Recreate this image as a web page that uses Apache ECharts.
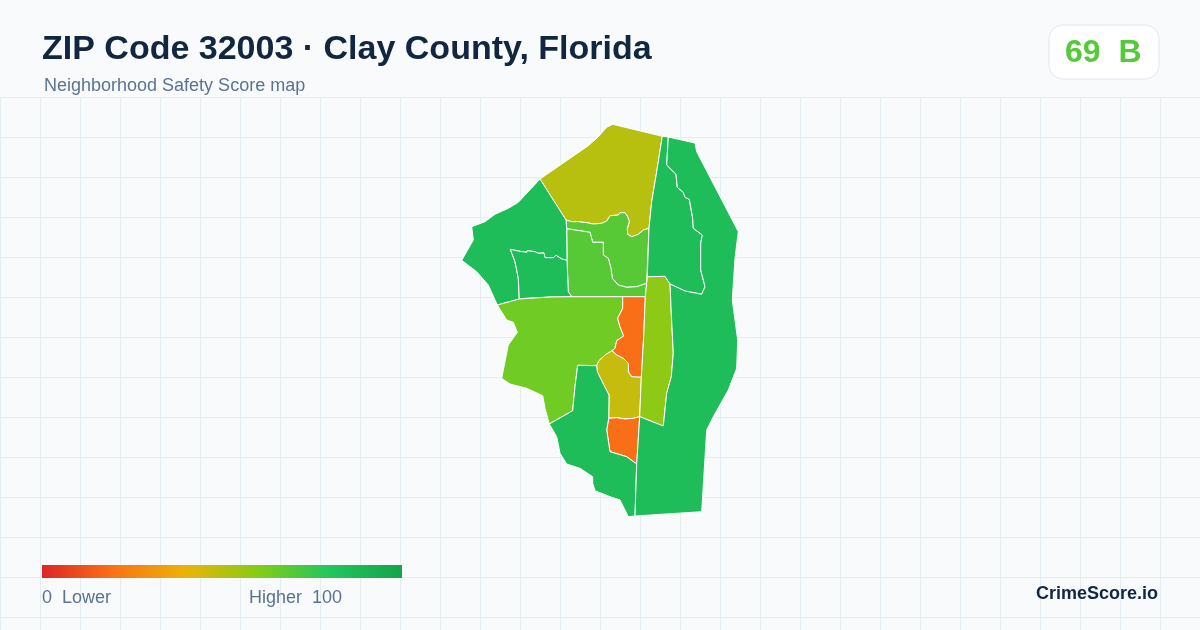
<!DOCTYPE html>
<html>
<head>
<meta charset="utf-8">
<style>
html, body {margin: 0; background: #f8fafc;}
#chart {width: 1200px; height: 630px;}
</style>
<script src="https://cdn.jsdelivr.net/npm/echarts@6/dist/echarts.min.js"></script>
</head>
<body>
<div id="chart"></div>
<script>
// outlines, in map units
const northRing = [[540,179],[588.3,145.7],[598.3,136.7],[606.7,127.3],[612.7,124.3],[662.3,136.3],[656.7,171.7],[651.7,201.7],[649,228.3],[643.3,230],[638.3,234.3],[631.7,236.7],[627.7,234.3],[627.3,228.3],[629.3,221.7],[627.7,216.7],[625,212.7],[620,212.7],[618.3,215],[610,215.7],[606.7,221],[601.7,223.3],[593.3,224],[586.7,222.7],[578.3,221.7],[571.7,221.7],[566,220]];
const centerEastRing = [[566,220],[571.7,221.7],[578.3,221.7],[586.7,222.7],[593.3,224],[601.7,223.3],[606.7,221],[610,215.7],[618.3,215],[620,212.7],[625,212.7],[627.7,216.7],[629.3,221.7],[627.3,228.3],[627.7,234.3],[631.7,236.7],[638.3,234.3],[643.3,230],[649,228.3],[646.7,283.3],[636.7,286.7],[626.7,287.3],[618.3,285],[612.3,278.3],[611,268.3],[608.3,258.3],[603.3,255],[603.3,242.3],[592.7,242.3],[590,232.3],[566.7,228.7]];
const centerWestRing = [[566.7,228.7],[590,232.3],[592.7,242.3],[603.3,242.3],[603.3,255],[608.3,258.3],[611,268.3],[612.3,278.3],[618.3,285],[626.7,287.3],[636.7,286.7],[646.7,283.3],[645.7,296.7],[571.7,296.7],[568.3,291.7],[567,260.3]];
const westRing = [[540,179],[518.3,202.3],[508.3,208.3],[495,214.3],[485,221.7],[471.7,226.7],[473.3,240],[461.7,260.3],[476.7,271.7],[488.3,285],[497.3,305],[519.3,299],[518.3,278.3],[515,261.7],[510.3,249.3],[518.3,251],[526.7,252.3],[527.3,250.7],[535,251.7],[538.3,253.3],[544,253],[545,257.7],[553.3,257.7],[556,255.3],[561.7,259],[567,260.3],[566.7,228.7],[566,220]];
const westInnerRing = [[519.3,299],[526,298.3],[550,297],[571.7,296.7],[568.3,291.7],[567,260.3],[561.7,259],[556,255.3],[553.3,257.7],[545,257.7],[544,253],[538.3,253.3],[535,251.7],[527.3,250.7],[526.7,252.3],[518.3,251],[510.3,249.3],[515,261.7],[518.3,278.3]];
const southWestRing = [[497.3,305],[519.3,299],[550,297],[571.7,296.7],[622.7,296.7],[622.7,308.3],[617.7,318.3],[620,326.7],[623.7,336],[616.7,340.7],[615,348.3],[612,350.7],[605,355],[598.7,361],[596.7,365.7],[577.7,365.3],[575,386.7],[572.7,410.7],[549.3,424],[545,408.3],[542.7,395.7],[526.7,388.3],[510,384],[501.7,378.3],[508.3,345],[517.3,332.3],[513.3,322.3],[506.7,320]];
const orangeNorthRing = [[622.7,296.7],[645.3,296.7],[643.7,336.7],[641.3,377.3],[631.7,376.7],[628.3,371.7],[628.3,363.3],[623.3,358.3],[616.7,355],[612,350.7],[615,348.3],[616.7,340.7],[623.7,336],[620,326.7],[617.7,318.3],[622.7,308.3]];
const mustardRing = [[612,350.7],[616.7,355],[623.3,358.3],[628.3,363.3],[628.3,371.7],[631.7,376.7],[641.3,377.3],[639.7,416.7],[633.3,418.3],[625,419],[616.7,417.7],[608.7,418.3],[609,395],[603.3,384],[597.3,371.7],[596.7,365.7],[598.7,361],[605,355]];
const orangeSouthRing = [[608.7,418.3],[616.7,417.7],[625,419],[633.3,418.3],[639.7,416.7],[636.7,464],[626.7,456.7],[610,451.7],[606.7,430]];
const southRing = [[577.7,365.3],[596.7,365.7],[597.3,371.7],[603.3,384],[609,395],[608.7,418.3],[606.7,430],[610,451.7],[626.7,456.7],[636.7,464],[635,516],[628.3,516.7],[620,500],[610,496.7],[595,490.7],[592.7,483.3],[592.7,476.7],[580,468.3],[566.7,464],[560,453.3],[556.7,436.7],[549.3,424],[572.7,410.7],[575,386.7]];
const stripRing = [[647.3,276.7],[665,276.3],[670,284],[671.3,313.3],[673.3,353.3],[671.3,376.7],[666.7,393.3],[663.3,426],[639.7,416.7],[641.3,377.3],[643.7,336.7],[645.3,296.7]];
const eastInnerRing = [[662.3,136.3],[668.3,137],[666.7,165],[676,174.3],[677.3,187.3],[683.3,192.3],[685,197.3],[689.3,199.3],[692.7,218.3],[693.3,228.3],[702.3,235],[700.7,243.3],[700.7,270],[705,286.7],[701.7,294.3],[685,291],[670,284],[665,276.3],[647.3,276.7],[649,228.3],[651.7,201.7],[656.7,171.7]];
const eastRing = [[668.3,137],[695,143],[696.7,151.7],[738.3,231.7],[735,258.3],[732.3,300],[735,320],[737.7,340],[736.7,368.3],[728.3,390],[713.3,416.7],[706.7,430],[701.7,511.7],[635,516],[636.7,464],[639.7,416.7],[663.3,426],[666.7,393.3],[671.3,376.7],[673.3,353.3],[671.3,313.3],[670,284],[685,291],[701.7,294.3],[705,286.7],[700.7,270],[700.7,243.3],[702.3,235],[693.3,228.3],[692.7,218.3],[689.3,199.3],[685,197.3],[683.3,192.3],[677.3,187.3],[676,174.3],[666.7,165]];

const areaNames = ['north', 'centerEast', 'centerWest', 'west', 'westInner', 'southWest', 'orangeNorth', 'mustard', 'orangeSouth', 'south', 'strip', 'eastInner', 'east'];
const areaRings = [northRing, centerEastRing, centerWestRing, westRing, westInnerRing, southWestRing, orangeNorthRing, mustardRing, orangeSouthRing, southRing, stripRing, eastInnerRing, eastRing];
const areaScores = [50, 69, 69, 85, 85, 64, 19, 47, 19, 85, 58, 85, 85];

const scaleColors = ['#dc2626', '#f97316', '#eab308', '#84cc16', '#22c55e', '#16a34a'];

const titleText = 'ZIP Code 32003 · Clay County, Florida';
const subtitleText = 'Neighborhood Safety Score map';
const badgeText = '69  B';
const lowText = '0  Lower';
const highText = 'Higher  100';
const brandText = 'CrimeScore.io';

const sans = '"Liberation Sans", Arial, sans-serif';
const muted = '#5b7391';
const gridColor = '#e4edf1';

echarts.registerMap('zip32003', {
    type: 'FeatureCollection',
    features: areaNames.map((name, i) => ({
        type: 'Feature',
        properties: {name},
        geometry: {type: 'Polygon', coordinates: [areaRings[i]]},
    })),
});

const chart = echarts.init(document.getElementById('chart'));
chart.setOption({
    animation: false,
    backgroundColor: '#f8fafc',
    grid: {left: 0, right: 0, top: 97, bottom: 0},
    xAxis: {
        type: 'value',
        min: 0,
        max: 1200,
        interval: 40,
        axisLine: {show: false},
        axisTick: {show: false},
        axisLabel: {show: false},
        splitLine: {lineStyle: {color: gridColor, width: 1}},
    },
    yAxis: {
        type: 'value',
        inverse: true,
        min: 0,
        max: 533,
        interval: 40,
        axisLine: {show: false},
        axisTick: {show: false},
        axisLabel: {show: false},
        splitLine: {lineStyle: {color: gridColor, width: 1}},
    },
    // the built in bar has clipped corners, so the legend bar is a graphic below
    visualMap: {
        type: 'continuous',
        show: false,
        seriesIndex: 0,
        min: 0,
        max: 100,
        inRange: {color: scaleColors},
    },
    series: [{
        type: 'map',
        map: 'zip32003',
        projection: {project: p => p, unproject: p => p},
        left: 461.7,
        top: 124.3,
        width: 276.6,
        height: 392.4,
        roam: false,
        silent: true,
        label: {show: false},
        emphasis: {disabled: true},
        itemStyle: {borderColor: '#ffffff', borderWidth: 1},
        data: areaNames.map((name, i) => ({name, value: areaScores[i]})),
    }],
    graphic: [
        {type: 'text', z: 10, left: 42, top: 33, style: {text: titleText, font: `bold 34px ${sans}`, fill: '#12263f'}},
        {type: 'text', z: 10, left: 44, top: 77, style: {text: subtitleText, font: `18px ${sans}`, fill: muted}},
        {type: 'rect', z: 10, left: 1048.5, top: 24.5, shape: {width: 110, height: 54, r: 14}, style: {fill: '#ffffff', stroke: '#e0e6ef', lineWidth: 1}},
        {type: 'text', z: 11, left: 1065, top: 37, style: {text: badgeText, font: `bold 32px ${sans}`, fill: '#55c93a'}},
        {
            type: 'rect',
            z: 10,
            left: 42,
            top: 565,
            shape: {width: 360, height: 13},
            style: {
                fill: new echarts.graphic.LinearGradient(0, 0, 1, 0, scaleColors.map((color, i) => ({
                    offset: i / (scaleColors.length - 1),
                    color,
                }))),
            },
        },
        {type: 'text', z: 10, left: 42, top: 589, style: {text: lowText, font: `18px ${sans}`, fill: muted}},
        {type: 'text', z: 10, left: 249, top: 589, style: {text: highText, font: `18px ${sans}`, fill: muted}},
        {type: 'text', z: 10, right: 42, top: 585, style: {text: brandText, font: `bold 18px ${sans}`, fill: '#12263f'}},
    ],
});
</script>
</body>
</html>
